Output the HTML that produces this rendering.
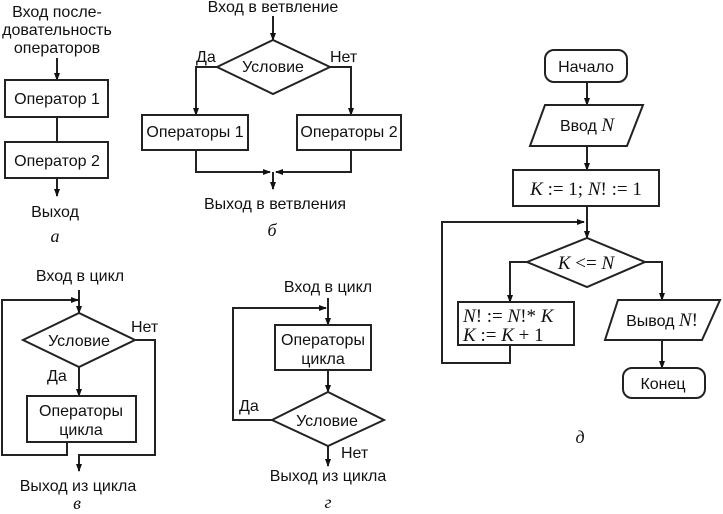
<!DOCTYPE html>
<html><head><meta charset="utf-8"><style>
html,body{margin:0;padding:0;background:#fff;}
svg{display:block;}
text{font-family:"Liberation Sans","DejaVu Sans",sans-serif;font-size:16px;fill:#111;}
.m{font-family:"Liberation Serif",serif;font-size:19px;}
.i{font-style:italic;}
.l{font-family:"Liberation Serif",serif;font-style:italic;font-size:18px;}
</style></head><body>
<svg width="723" height="514" viewBox="0 0 723 514" xmlns="http://www.w3.org/2000/svg">
<defs><marker id="a" markerWidth="8" markerHeight="8" refX="7" refY="4" orient="auto" markerUnits="userSpaceOnUse"><path d="M0,1 L8,4 L0,7 Z" fill="#111"/></marker></defs>
<g fill="none" stroke="#222" stroke-width="2">
<!-- a -->
<line x1="57" y1="58" x2="57" y2="80" marker-end="url(#a)"/>
<rect x="5" y="80" width="103" height="37" fill="#fff"/>
<line x1="57" y1="117" x2="57" y2="142"/>
<rect x="5" y="142" width="103" height="36" fill="#fff"/>
<line x1="57" y1="178" x2="57" y2="196" marker-end="url(#a)"/>
<!-- b -->
<line x1="273" y1="16" x2="273" y2="40" marker-end="url(#a)"/>
<polygon points="217,67 273,40 330,67 273,94" fill="#fff"/>
<polyline points="217,67 196,67 196,115" marker-end="url(#a)"/>
<polyline points="330,67 351,67 351,115" marker-end="url(#a)"/>
<rect x="142" y="115" width="106" height="35" fill="#fff"/>
<rect x="297" y="115" width="104" height="35" fill="#fff"/>
<polyline points="196,150 196,172 270,172" marker-end="url(#a)"/>
<polyline points="351,150 351,172 276,172" marker-end="url(#a)"/>
<line x1="273" y1="172" x2="273" y2="189" marker-end="url(#a)"/>
<!-- v -->
<line x1="79" y1="290" x2="79" y2="313" marker-end="url(#a)"/>
<polyline points="67,442 67,455 2,455 2,300 78,300" marker-end="url(#a)"/>
<polygon points="23,340 79,313 135,340 79,367" fill="#fff"/>
<line x1="79" y1="367" x2="79" y2="396" marker-end="url(#a)"/>
<rect x="27" y="396" width="109" height="46" fill="#fff"/>
<polyline points="135,340 155,340 155,455 79,455 79,471" marker-end="url(#a)"/>
<!-- g -->
<line x1="328" y1="298" x2="328" y2="325" marker-end="url(#a)"/>
<polyline points="272,420 233,420 233,308 326,308" marker-end="url(#a)"/>
<rect x="275" y="325" width="96" height="45" fill="#fff"/>
<line x1="328" y1="370" x2="328" y2="392" marker-end="url(#a)"/>
<polygon points="272,420 328,392 384,420 328,446" fill="#fff"/>
<line x1="328" y1="446" x2="328" y2="466" marker-end="url(#a)"/>
<!-- d -->
<rect x="545" y="50" width="82" height="32" rx="9" fill="#fff"/>
<line x1="587" y1="82" x2="587" y2="105" marker-end="url(#a)"/>
<polygon points="545,105 643,105 627,146 530,146" fill="#fff"/>
<line x1="587" y1="146" x2="587" y2="170" marker-end="url(#a)"/>
<rect x="513" y="170" width="146" height="36" fill="#fff"/>
<line x1="587" y1="206" x2="587" y2="238" marker-end="url(#a)"/>
<polyline points="510,345 510,363 442,363 442,222 584,222" marker-end="url(#a)"/>
<polygon points="527,262 587,238 645,262 587,287" fill="#fff"/>
<polyline points="527,262 510,262 510,302" marker-end="url(#a)"/>
<rect x="458" y="302" width="116" height="43" fill="#fff"/>
<polyline points="645,262 662,262 662,300" marker-end="url(#a)"/>
<polygon points="618,300 720,300 702,340 605,340" fill="#fff"/>
<line x1="662" y1="340" x2="662" y2="368" marker-end="url(#a)"/>
<rect x="623" y="368" width="82" height="30" rx="9" fill="#fff"/>
</g>
<g text-anchor="middle">
<text x="57" y="17">Вход после-</text>
<text x="57" y="35">довательность</text>
<text x="57" y="53">операторов</text>
<text x="57" y="104">Оператор 1</text>
<text x="57" y="166">Оператор 2</text>
<text x="55" y="217">Выход</text>
<text x="55" y="242" class="l">а</text>
<text x="273" y="12">Вход в ветвление</text>
<text x="273" y="72">Условие</text>
<text x="195" y="137">Операторы 1</text>
<text x="349" y="137">Операторы 2</text>
<text x="275" y="209">Выход в ветвления</text>
<text x="272" y="236" class="l">б</text>
<text x="80" y="281">Вход в цикл</text>
<text x="79" y="346">Условие</text>
<text x="81" y="416">Операторы</text>
<text x="81" y="435">цикла</text>
<text x="78" y="491">Выход из цикла</text>
<text x="77" y="509" class="l">в</text>
<text x="328" y="292">Вход в цикл</text>
<text x="323" y="345">Операторы</text>
<text x="323" y="364">цикла</text>
<text x="327" y="426">Условие</text>
<text x="328" y="481">Выход из цикла</text>
<text x="328" y="508" class="l">г</text>
<text x="586" y="72">Начало</text>
<text x="587" y="131">Ввод <tspan class="m i">N</tspan></text>
<text x="586" y="195" class="m"><tspan class="i">K</tspan> := 1; <tspan class="i">N</tspan>! := 1</text>
<text x="586" y="269" class="m"><tspan class="i">K</tspan> &lt;= <tspan class="i">N</tspan></text>
<text x="662" y="326">Вывод <tspan class="m i">N</tspan><tspan class="m">!</tspan></text>
<text x="663" y="389">Конец</text>
<text x="580" y="443" class="l">д</text>
</g>
<text x="196" y="62">Да</text>
<text x="330" y="62">Нет</text>
<text x="131" y="332">Нет</text>
<text x="47" y="381">Да</text>
<text x="239" y="411">Да</text>
<text x="341" y="458">Нет</text>
<text x="463" y="322" class="m"><tspan class="i">N</tspan>! := <tspan class="i">N</tspan>!* <tspan class="i">K</tspan></text>
<text x="463" y="341" class="m"><tspan class="i">K</tspan> := <tspan class="i">K</tspan> + 1</text>
</svg>
</body></html>
